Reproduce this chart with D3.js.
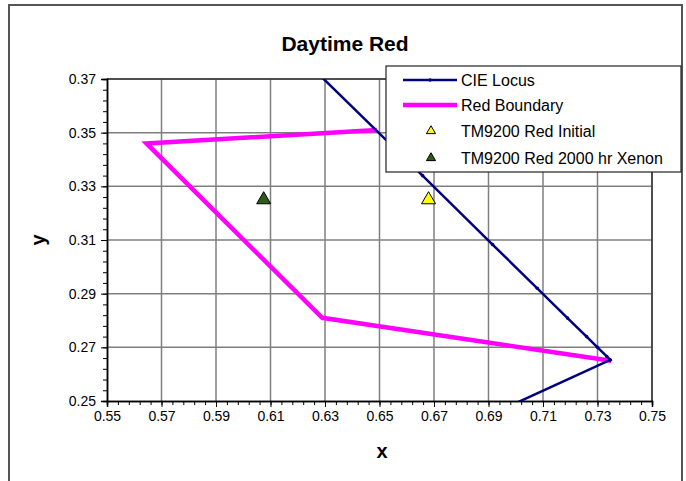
<!DOCTYPE html>
<html>
<head>
<meta charset="utf-8">
<script src="https://cdn.jsdelivr.net/npm/d3@7"></script>
<style>
  body { margin: 0; background: #fff; }
  svg { display: block; font-family: "Liberation Sans", Arial, sans-serif; }
</style>
</head>
<body>
<svg id="chart" width="686" height="481"></svg>
<script>
// Daytime Red chromaticity chart

const xTicks = [0.55, 0.57, 0.59, 0.61, 0.63, 0.65, 0.67, 0.69, 0.71, 0.73, 0.75];
const yTicks = [0.25, 0.27, 0.29, 0.31, 0.33, 0.35, 0.37];

// spectral locus near the red end, then the purple line
const locusX = [0.5752, 0.6270, 0.6658, 0.6915, 0.7079, 0.7190, 0.7260, 0.7300, 0.7334, 0.7347, 0.1741];
const locusY = [0.4242, 0.3725, 0.3340, 0.3083, 0.2920, 0.2809, 0.2740, 0.2700, 0.2666, 0.2653, 0.0050];

const boundaryX = [0.649, 0.5645, 0.629, 0.735];
const boundaryY = [0.351, 0.346, 0.281, 0.265];

const initialX = [0.668];
const initialY = [0.325];
const xenonX = [0.6075];
const xenonY = [0.325];

const legendLabels = ['CIE Locus', 'Red Boundary', 'TM9200 Red Initial', 'TM9200 Red 2000 hr Xenon'];

const svg = d3.select('#chart');
const margin = { top: 79, right: 34, bottom: 80, left: 107 };
const width = 686, height = 481;
const font = '"Liberation Sans", Arial, sans-serif';

const xScale = d3.scaleLinear().domain([0.55, 0.75]).range([margin.left, width - margin.right]);
const yScale = d3.scaleLinear().domain([0.25, 0.37]).range([height - margin.bottom, margin.top]);

// outer frame
svg.append('rect')
  .attr('x', 9).attr('y', 5).attr('width', 673).attr('height', 500)
  .attr('fill', '#fff').attr('stroke', '#555').attr('stroke-width', 2);

// title
svg.append('text')
  .attr('x', 345).attr('y', 51)
  .attr('text-anchor', 'middle')
  .attr('font-size', '21px').attr('font-weight', 'bold')
  .text('Daytime Red');

// grid lines
const grid = svg.append('g').attr('stroke', '#7f7f7f').attr('stroke-width', 1.5);
xTicks.slice(1).forEach(t => {
  grid.append('line')
    .attr('x1', xScale(t)).attr('x2', xScale(t))
    .attr('y1', yScale(0.25)).attr('y2', yScale(0.37));
});
yTicks.slice(1).forEach(t => {
  grid.append('line')
    .attr('x1', xScale(0.55)).attr('x2', xScale(0.75))
    .attr('y1', yScale(t)).attr('y2', yScale(t));
});

// plot border on top & right
svg.append('line')
  .attr('x1', xScale(0.55)).attr('x2', xScale(0.75))
  .attr('y1', yScale(0.37)).attr('y2', yScale(0.37))
  .attr('stroke', '#333').attr('stroke-width', 1.5);
svg.append('line')
  .attr('x1', xScale(0.75)).attr('x2', xScale(0.75))
  .attr('y1', yScale(0.25)).attr('y2', yScale(0.37))
  .attr('stroke', '#333').attr('stroke-width', 1.5);

// axes
const minorX = d3.range(0.55, 0.7501, 0.004);
const minorY = d3.range(0.25, 0.3701, 0.004);

svg.append('g')
  .attr('transform', `translate(0,${yScale(0.25)})`)
  .call(d3.axisBottom(xScale).tickValues(minorX).tickSize(4).tickFormat(''));
const xMajor = svg.append('g')
  .attr('transform', `translate(0,${yScale(0.25)})`)
  .call(d3.axisBottom(xScale).tickValues(xTicks).tickSize(6).tickPadding(4).tickFormat(d3.format('.2f')));
xMajor.selectAll('text').attr('font-size', '14px').attr('font-family', font).attr('fill', '#000');

svg.append('g')
  .attr('transform', `translate(${xScale(0.55)},0)`)
  .call(d3.axisLeft(yScale).tickValues(minorY).tickSize(4).tickFormat(''));
const yMajor = svg.append('g')
  .attr('transform', `translate(${xScale(0.55)},0)`)
  .call(d3.axisLeft(yScale).tickValues(yTicks).tickSize(6).tickPadding(5).tickFormat(d3.format('.2f')));
yMajor.selectAll('text').attr('font-size', '14px').attr('font-family', font).attr('fill', '#000');

svg.selectAll('.domain').attr('stroke', '#000').attr('stroke-width', 1.5);

// axis titles
svg.append('text')
  .attr('x', 382).attr('y', 458)
  .attr('text-anchor', 'middle')
  .attr('font-size', '20px').attr('font-weight', 'bold')
  .text('x');
svg.append('text')
  .attr('transform', 'translate(45,240) rotate(-90)')
  .attr('text-anchor', 'middle')
  .attr('font-size', '20px').attr('font-weight', 'bold')
  .text('y');

// clip to plot area
svg.append('clipPath').attr('id', 'plot-clip')
  .append('rect')
  .attr('x', xScale(0.55)).attr('y', yScale(0.37))
  .attr('width', xScale(0.75) - xScale(0.55))
  .attr('height', yScale(0.25) - yScale(0.37));

const plot = svg.append('g').attr('clip-path', 'url(#plot-clip)');
const line = d3.line().x(d => xScale(d[0])).y(d => yScale(d[1]));

const boundary = d3.zip(boundaryX, boundaryY);
plot.append('path')
  .datum(boundary)
  .attr('d', line)
  .attr('fill', 'none')
  .attr('stroke', '#ff00ff')
  .attr('stroke-width', 4.5)
  .attr('stroke-linejoin', 'miter');

const locus = d3.zip(locusX, locusY);
plot.append('path')
  .datum(locus)
  .attr('d', line)
  .attr('fill', 'none')
  .attr('stroke', '#000080')
  .attr('stroke-width', 2.5);

plot.selectAll('.locus-dot')
  .data(locus)
  .enter().append('circle')
  .attr('cx', d => xScale(d[0]))
  .attr('cy', d => yScale(d[1]))
  .attr('r', 1.8)
  .attr('fill', '#000080');

const tri = d3.symbol().type(d3.symbolTriangle);

plot.selectAll('.xenon')
  .data(d3.zip(xenonX, xenonY))
  .enter().append('path')
  .attr('d', tri.size(85)())
  .attr('transform', d => `translate(${xScale(d[0])},${yScale(d[1])})`)
  .attr('fill', '#2e5a1c').attr('stroke', '#000').attr('stroke-width', 1);

plot.selectAll('.initial')
  .data(d3.zip(initialX, initialY))
  .enter().append('path')
  .attr('d', tri.size(85)())
  .attr('transform', d => `translate(${xScale(d[0])},${yScale(d[1])})`)
  .attr('fill', '#ffff00').attr('stroke', '#000').attr('stroke-width', 1);

// legend
const legend = svg.append('g');
legend.append('rect')
  .attr('x', 386).attr('y', 66).attr('width', 295).attr('height', 106)
  .attr('fill', '#fff').attr('stroke', '#222').attr('stroke-width', 1.2);

const rowY = [80, 105, 131, 158];
legendLabels.forEach((label, i) => {
  const y = rowY[i];
  if (i === 0) {
    legend.append('line').attr('x1', 403).attr('x2', 457).attr('y1', y).attr('y2', y)
      .attr('stroke', '#000080').attr('stroke-width', 2.5);
    legend.append('circle').attr('cx', 430).attr('cy', y).attr('r', 1.8).attr('fill', '#000080');
  } else if (i === 1) {
    legend.append('line').attr('x1', 403).attr('x2', 457).attr('y1', y).attr('y2', y)
      .attr('stroke', '#ff00ff').attr('stroke-width', 4.5);
  } else {
    legend.append('path')
      .attr('d', tri.size(36)())
      .attr('transform', `translate(431,${y})`)
      .attr('fill', i === 2 ? '#ffff00' : '#2e5a1c')
      .attr('stroke', '#000').attr('stroke-width', 1);
  }
  legend.append('text')
    .attr('x', 461).attr('y', y + 5.5)
    .attr('font-size', '16px')
    .attr('fill', '#000')
    .text(label);
});
</script>
</body>
</html>
